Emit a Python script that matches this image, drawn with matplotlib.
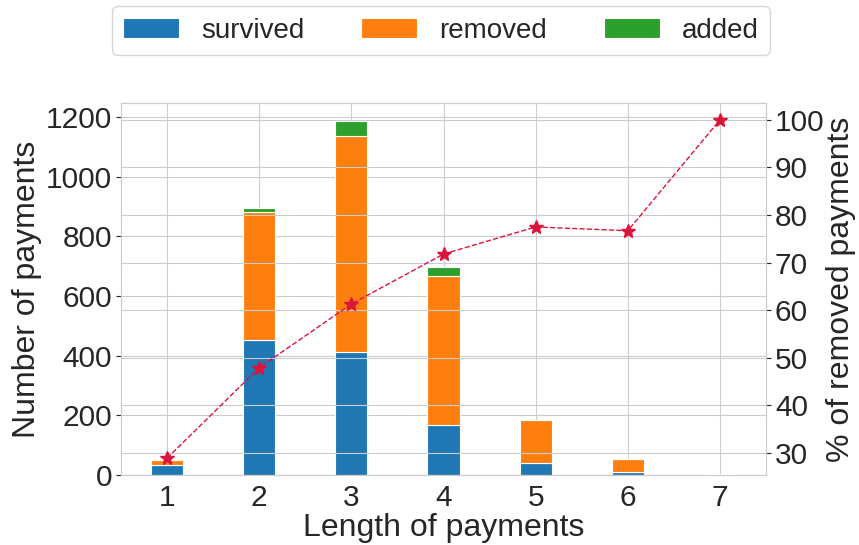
import matplotlib
matplotlib.use("Agg")
import matplotlib.pyplot as plt
import seaborn as sns
import numpy as np

lengths = [1, 2, 3, 4, 5, 6, 7]
survived = [34, 452, 412, 168, 40, 11, 0]
removed = [16, 430, 724, 499, 144, 43, 4]
added = [0, 13, 51, 30, 0, 0, 0]
pct_removed = [28.9, 47.9, 61.3, 71.8, 77.5, 76.7, 100.0]

sns.set_style("whitegrid")
plt.rcParams['font.family'] = ['Liberation Sans', 'DejaVu Sans']

fig = plt.figure(figsize=(8.59, 5.45), dpi=100)
ax = fig.add_axes([0.1409, 0.1284, 0.7508, 0.6826])
x = np.array(lengths)
w = 0.35
ax.bar(x, survived, w, color='#1f77b4', edgecolor='white', linewidth=0.8, label='survived')
ax.bar(x, removed, w, bottom=survived, color='#ff7f0e', edgecolor='white', linewidth=0.8, label='removed')
bot3 = np.array(survived) + np.array(removed)
ax.bar(x, added, w, bottom=bot3, color='#2ca02c', edgecolor='white', linewidth=0.8, label='added')
ax.set_xlim(0.5, 7.5)
ax.set_xticks(lengths)
ax.set_yticks([0, 200, 400, 600, 800, 1000, 1200])
ax.tick_params(axis='both', labelsize=21.5, pad=3)
ax.set_xlabel('Length of payments', fontsize=23, labelpad=1)
ax.set_ylabel('Number of payments', fontsize=23, labelpad=3)

ax2 = ax.twinx()
ax2.plot(x, pct_removed, linestyle='--', linewidth=1, color='#dc143c', marker='*', markersize=10)
ax2.set_yticks([30, 40, 50, 60, 70, 80, 90, 100])
ax2.tick_params(axis='y', labelsize=21.5, pad=3)
ax2.set_ylabel('% of removed payments', fontsize=23, labelpad=1)

for a in (ax, ax2):
    for s in a.spines.values():
        s.set_color('#cccccc')

ax.legend(loc='lower left', bbox_to_anchor=(-0.014, 1.13, 1.02, 0.1), mode='expand',
          ncol=3, fontsize=20, frameon=True, borderaxespad=0)

fig.savefig('out.png', dpi=100)
